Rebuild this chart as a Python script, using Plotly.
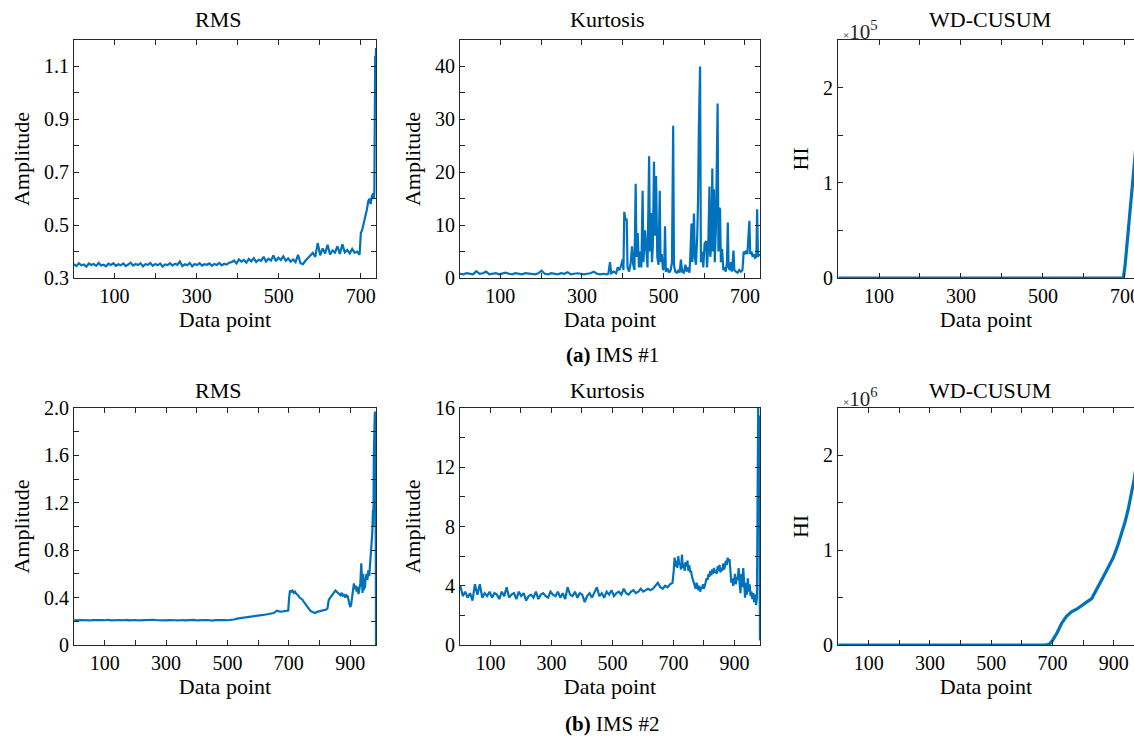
import plotly.graph_objects as go

# ---------------- DATA ----------------
# (a) IMS #1 -- RMS
rms1_x = list(range(1, 698, 6)) + [700, 703, 706, 709, 712, 715, 718, 721, 724, 727, 730, 732, 733, 734, 735, 736, 737]
rms1_y = [
    0.352, 0.345, 0.356, 0.348, 0.351, 0.343, 0.355, 0.349, 0.353, 0.346,
    0.357, 0.347, 0.350, 0.344, 0.354, 0.349, 0.356, 0.346, 0.352, 0.348,
    0.355, 0.345, 0.351, 0.358, 0.347, 0.353, 0.349, 0.356, 0.344, 0.352,
    0.350, 0.357, 0.346, 0.353, 0.348, 0.355, 0.343, 0.351, 0.349, 0.356,
    0.347, 0.354, 0.350, 0.362, 0.345, 0.352, 0.348, 0.357, 0.344, 0.353,
    0.349, 0.356, 0.347, 0.352, 0.350, 0.355, 0.346, 0.353, 0.349, 0.357,
    0.348, 0.354, 0.351, 0.358,
    0.360, 0.366, 0.355, 0.370, 0.362, 0.368, 0.358, 0.372, 0.363, 0.375,
    0.360, 0.369, 0.365, 0.380, 0.362, 0.373, 0.366, 0.385, 0.364, 0.377,
    0.368, 0.382, 0.365, 0.374, 0.362, 0.370, 0.360, 0.388,
    0.356, 0.352,
    0.365, 0.376, 0.384, 0.395, 0.380, 0.432, 0.386, 0.412, 0.393, 0.426,
    0.389, 0.404, 0.396, 0.420, 0.391, 0.428, 0.397, 0.406, 0.393, 0.410,
    0.395, 0.400, 0.388,
    0.47, 0.48, 0.50, 0.51, 0.54, 0.56, 0.59, 0.60, 0.58, 0.61, 0.62, 0.60,
    0.63, 0.95, 1.14, 1.05, 1.17,
]

# (a) IMS #1 -- Kurtosis
kurt1_x = list(range(1, 362, 8)) + [
    365, 369, 372, 378, 384, 388, 392, 396, 400, 402, 404, 407, 410, 412, 416, 420, 423, 426, 429, 432,
    434, 437, 440, 443, 446, 449, 451, 455, 458, 461, 465, 467, 470, 472, 474, 477, 479, 482, 485, 488,
    491, 493, 496, 499, 502, 504, 506, 510, 514, 518, 521, 524, 526, 529, 533, 537, 540, 543, 546, 550,
    554, 557, 561, 564, 566, 569, 571, 575, 577, 580, 583, 585, 587, 590, 592, 595, 598, 601, 605, 607,
    610, 613, 615, 618, 620, 622, 624, 626, 629, 631, 633, 635, 637, 639, 641, 644, 647, 650, 653, 656,
    658, 660, 663, 666, 668, 672, 674, 678, 682, 686, 690, 694, 697, 700, 703, 706, 709, 711, 713, 716,
    719, 722, 725, 728, 730, 732, 735, 737]
kurt1_y = [
    0.8, 0.7, 0.9, 0.8, 0.7, 1.3, 0.8, 0.9, 1.2, 0.7,
    0.8, 0.9, 0.7, 0.8, 1.0, 0.8, 0.7, 0.9, 0.8, 0.7,
    0.9, 0.8, 0.8, 0.7, 0.9, 1.4, 0.8, 0.7, 0.9, 0.8,
    0.7, 0.9, 0.8, 1.1, 0.7, 0.8, 0.9, 0.8, 0.7, 0.8,
    0.9, 1.2, 0.8, 0.7, 0.8, 0.7,
    0.8, 3.0, 0.9, 1.2, 0.9, 2.0, 1.5, 2.3, 3.5, 1.5, 12.5, 11.0, 11.2, 2.0, 1.2, 3.0, 6.0, 2.5, 1.5, 17.8,
    4.0, 8.5, 2.0, 5.0, 2.0, 16.5, 3.0, 9.0, 4.0, 2.0, 23.0, 5.0, 12.3, 3.0, 6.0, 22.0, 8.0, 19.3, 4.0, 2.5,
    16.5, 3.0, 4.5, 1.5, 2.0, 9.8, 1.2, 1.8, 1.0, 1.5, 3.0, 28.8, 2.5, 1.2, 1.0, 1.5, 1.0, 3.5, 1.2, 1.0,
    2.5, 1.2, 2.0, 1.0, 4.0, 10.3, 3.0, 12.2, 4.0, 2.5, 8.0, 14.5, 28.5, 40.0, 3.0, 5.0, 2.0, 6.5, 7.0, 2.0,
    6.0, 17.3, 4.0, 6.5, 20.7, 5.0, 16.8, 3.0, 10.0, 19.3, 33.0, 5.0, 13.3, 13.0, 3.0, 5.5, 1.5, 2.0, 1.2, 3.0,
    10.5, 2.0, 1.5, 3.0, 1.2, 5.2, 1.5, 1.2, 1.0, 1.5, 1.2, 1.5, 5.0, 4.5, 5.2, 4.5, 10.0, 10.8, 4.5, 5.0,
    4.0, 4.5, 3.8, 4.0, 13.0, 4.0, 4.5, 4.2]

# (a) IMS #1 -- WD-CUSUM
wd1_x = [1, 696, 700, 704, 708, 712, 716, 719, 722, 726, 730, 737]
wd1_y = [0, 0, 0.12e5, 0.30e5, 0.47e5, 0.66e5, 0.82e5, 0.96e5, 1.16e5, 1.35e5, 1.55e5, 1.95e5]

# (b) IMS #2 -- RMS
rms2_x = list(range(1, 692, 10)) + [
    698, 701, 704, 708, 712, 716, 720, 725, 730, 735, 740, 745, 750, 755, 760, 765, 770, 775, 780, 786,
    792, 798, 804, 810, 816, 822, 826, 830, 835, 840, 846, 852, 856, 860, 864, 868, 872, 876, 880, 884,
    888, 892, 896, 900, 903, 906, 909, 912, 915, 918, 921, 924, 927, 930, 933, 936, 938, 940, 942, 944,
    946, 948, 950, 953, 956, 959, 962, 965, 968, 970, 972, 974, 975, 976, 977, 978, 979, 980, 981, 982,
    983, 984]
rms2_y = [
    0.212, 0.208, 0.211, 0.209, 0.213, 0.207, 0.210, 0.212, 0.208, 0.211,
    0.209, 0.213, 0.208, 0.210, 0.207, 0.211, 0.209, 0.212, 0.208, 0.210,
    0.211, 0.207, 0.209, 0.212, 0.208, 0.210, 0.213, 0.209, 0.207, 0.211,
    0.208, 0.210, 0.212, 0.209, 0.207, 0.211, 0.208, 0.210, 0.209, 0.212,
    0.207, 0.210, 0.208, 0.211, 0.209, 0.206, 0.210, 0.212, 0.208, 0.210,
    0.209, 0.211, 0.215,
    0.222, 0.225, 0.230, 0.233, 0.238, 0.240, 0.246, 0.248, 0.252, 0.255,
    0.258, 0.262, 0.270, 0.290, 0.282, 0.284, 0.289,
    0.29, 0.40, 0.46, 0.45, 0.46, 0.44, 0.45, 0.43, 0.42, 0.40, 0.39, 0.38, 0.36, 0.34, 0.32, 0.30, 0.29, 0.28, 0.275, 0.27,
    0.28, 0.285, 0.29, 0.29, 0.295, 0.30, 0.31, 0.38, 0.40, 0.42, 0.44, 0.46, 0.45, 0.44, 0.43, 0.42, 0.44, 0.41, 0.43, 0.40,
    0.42, 0.41, 0.36, 0.32, 0.34, 0.40, 0.45, 0.52, 0.47, 0.50, 0.45, 0.49, 0.43, 0.50, 0.52, 0.69, 0.50, 0.44, 0.60, 0.46,
    0.52, 0.48, 0.56, 0.60, 0.55, 0.63, 0.58, 0.68, 0.75, 0.85, 0.95, 1.14, 1.00, 1.20, 1.60, 1.85, 1.70, 1.95, 1.97, 1.80,
    1.00, 0.00]

# (b) IMS #2 -- Kurtosis
kurt2_x = list(range(1, 698, 8)) + [
    701, 704, 707, 710, 713, 716, 719, 722, 725, 728, 731, 734, 737, 740, 743, 746, 749, 752, 755, 758,
    761, 764, 767, 770, 773, 776, 779, 782, 785, 788, 791, 794, 797, 800, 803, 806, 809, 812, 815, 818,
    821, 824, 827, 830, 833, 836, 839, 842, 845, 848, 851, 854, 857, 860, 863, 866, 869, 872, 875, 878,
    881, 884, 887, 890, 893, 896, 899, 902, 905, 908, 911, 914, 917, 920, 923, 926, 929, 932, 935, 938,
    941, 944, 947, 950, 953, 956, 959, 962, 965, 968, 971, 974, 976, 977, 978, 979, 980, 981, 982, 983,
    984]
kurt2_y = [
    4.0, 3.3, 3.6, 3.2, 3.5, 3.0, 4.1, 3.4, 4.1, 3.2, 3.5, 3.3, 3.6,
    3.2, 3.5, 3.4, 3.1, 3.6, 3.3, 3.9, 3.2, 3.4, 3.5, 3.1, 3.6, 3.3,
    3.5, 3.0, 3.3, 3.4, 3.2, 3.6, 3.1, 3.4, 3.5, 3.3, 3.2, 3.6, 3.4,
    3.3, 3.6, 3.2, 3.5, 3.1, 3.9, 3.4, 3.3, 3.6, 3.2, 3.5, 3.4, 2.9,
    3.3, 3.5, 3.2, 3.6, 3.9, 3.3, 3.5, 3.2, 3.6, 3.4, 3.7, 3.3, 3.5,
    3.6, 3.4, 3.8, 3.5, 3.4, 3.6, 3.7, 3.5, 3.6, 3.8, 3.6, 3.7, 3.8,
    3.7, 3.8, 4.0, 4.2, 3.9, 3.8, 4.0, 3.9, 4.1, 4.2,
    5.0, 5.9, 5.3, 5.7, 5.2, 6.0, 5.4, 5.5, 5.1, 6.1, 5.2, 5.5, 5.0, 5.6, 5.3, 5.7, 5.0, 5.4, 4.9, 5.0,
    4.6, 4.4, 4.1, 4.0, 3.8, 4.2, 3.9, 3.7, 4.0, 3.6, 3.9, 3.8, 4.1, 3.8, 4.0, 4.3, 4.5, 4.4, 4.8, 4.6,
    5.0, 4.7, 5.1, 4.8, 5.2, 4.9, 5.0, 4.8, 5.3, 5.0, 5.4, 4.9, 5.2, 5.0, 5.5, 5.1, 5.3, 5.7, 5.4, 5.9,
    5.6, 5.8, 4.6, 4.2, 4.5, 4.0, 4.3, 4.8, 4.1, 4.6, 4.4, 5.2, 4.2, 3.5, 4.8, 3.9, 5.2, 4.4, 3.2, 4.2,
    3.4, 4.5, 3.6, 4.1, 3.3, 3.6, 3.1, 3.5, 2.9, 3.4, 2.7, 3.2, 11.2, 8.0, 16.0, 12.0, 14.5, 9.0, 15.5, 4.0,
    0.3]

# (b) IMS #2 -- WD-CUSUM
wd2_x = [1, 678, 690, 700, 715, 730, 745, 762, 780, 795, 810, 828, 845, 866, 882, 898, 912, 926, 937, 947, 957, 966, 975, 984]
wd2_y = [0, 0, 0.01e6, 0.046e6, 0.13e6, 0.23e6, 0.30e6, 0.35e6, 0.38e6, 0.41e6, 0.45e6, 0.49e6, 0.60e6, 0.72e6,
         0.82e6, 0.92e6, 1.04e6, 1.18e6, 1.30e6, 1.43e6, 1.58e6, 1.74e6, 1.92e6, 2.15e6]

titles = ["RMS", "Kurtosis", "WD-CUSUM"]
ylabels = ["Amplitude", "Amplitude", "HI"]
xlabel = "Data point"
captions = ["<b>(a)</b> IMS #1", "<b>(b)</b> IMS #2"]

# ---------------- STYLE ----------------
W, H = 1134, 737
BLUE = "#0072BD"
AX = "#262626"
FONT = "Liberation Serif"

col_dom = [(74 / W, 376 / W), (460 / W, 760 / W), (838 / W, 1.0)]
row_dom = [(1 - 278 / H, 1 - 40 / H), (1 - 645 / H, 1 - 408 / H)]


def xcfg(dom, rng, maxtick, overflow):
    vals = list(range(100, maxtick + 1, 100))
    txt = [str(v) if (v // 100) % 2 == 1 else "" for v in vals]
    return dict(domain=dom, range=rng, tickvals=vals, ticktext=txt, automargin=False,
                showline=True, linecolor=AX, linewidth=1, mirror="ticks",
                ticks="inside", ticklen=5, tickcolor=AX, showgrid=False, zeroline=False,
                ticklabeloverflow=overflow,
                tickfont=dict(family=FONT, size=20, color="black"),
                title=dict(text=xlabel, font=dict(family=FONT, size=22, color="black"), standoff=2))


def ycfg(dom, rng, vals, txt, title, mirror):
    return dict(domain=dom, range=rng, tickvals=vals, ticktext=txt, automargin=False,
                showline=True, linecolor=AX, linewidth=1, mirror=mirror,
                ticks="inside", ticklen=5, tickcolor=AX, showgrid=False, zeroline=False,
                tickfont=dict(family=FONT, size=20, color="black"),
                title=dict(text=title, font=dict(family=FONT, size=22, color="black"), standoff=8))


fig = go.Figure()
series = [
    (rms1_x, rms1_y, 2.2), (kurt1_x, kurt1_y, 2.2), (wd1_x, wd1_y, 3.2),
    (rms2_x, rms2_y, 2.2), (kurt2_x, kurt2_y, 2.2), (wd2_x, wd2_y, 3.2),
]
for i, (xs, ys, lw) in enumerate(series):
    n = "" if i == 0 else str(i + 1)
    fig.add_trace(go.Scatter(x=xs, y=ys, mode="lines", line=dict(color=BLUE, width=lw),
                             xaxis="x" + n, yaxis="y" + n, showlegend=False, hoverinfo="skip"))

layout = dict(width=W, height=H, margin=dict(l=0, r=0, t=0, b=0, autoexpand=False),
              paper_bgcolor="white", plot_bgcolor="white", showlegend=False,
              font=dict(family=FONT, color="black"))

xr = [[1, 737], [1, 737], [0, 722], [0, 984], [0, 984], [0, 966]]
maxt = [700, 700, 700, 900, 900, 900]
yspec = [
    ([0.3, 1.2], [0.3, 0.4, 0.5, 0.6, 0.7, 0.8, 0.9, 1.0, 1.1], ["0.3", "", "0.5", "", "0.7", "", "0.9", "", "1.1"]),
    ([0, 45], [0, 5, 10, 15, 20, 25, 30, 35, 40], ["0", "", "10", "", "20", "", "30", "", "40"]),
    ([0, 2.5e5], [0, 0.5e5, 1e5, 1.5e5, 2e5], ["0", "", "1", "", "2"]),
    ([0, 2.0], [0, 0.2, 0.4, 0.6, 0.8, 1.0, 1.2, 1.4, 1.6, 1.8, 2.0], ["0", "", "0.4", "", "0.8", "", "1.2", "", "1.6", "", "2.0"]),
    ([0, 16], [0, 2, 4, 6, 8, 10, 12, 14, 16], ["0", "", "4", "", "8", "", "12", "", "16"]),
    ([0, 2.5e6], [0, 0.5e6, 1e6, 1.5e6, 2e6], ["0", "", "1", "", "2"]),
]
for i in range(6):
    r, c = divmod(i, 3)
    n = "" if i == 0 else str(i + 1)
    xa = xcfg(col_dom[c], xr[i], maxt[i], "allow" if c == 2 else "hide past div")
    xa["anchor"] = "y" + n
    ya = ycfg(row_dom[r], yspec[i][0], yspec[i][1], yspec[i][2], ylabels[c],
              "ticks" if c < 2 else False)
    ya["anchor"] = "x" + n
    layout["xaxis" + n] = xa
    layout["yaxis" + n] = ya

ann = []
title_x = [218, 607, 990]
title_y = [20, 390]
for r in range(2):
    for c in range(3):
        ann.append(dict(text=titles[c], x=title_x[c] / W, y=1 - title_y[r] / H, xref="paper", yref="paper",
                        showarrow=False, xanchor="center", yanchor="middle",
                        font=dict(family=FONT, size=22, color="black")))
# exponent labels
for r, e in enumerate(["5", "6"]):
    ann.append(dict(text="<span style='font-size:11px'>×</span>10<sup>" + e + "</sup>",
                    x=841 / W, y=1 - (30 if r == 0 else 397) / H, xref="paper", yref="paper",
                    showarrow=False, xanchor="left", yanchor="middle",
                    font=dict(family=FONT, size=21, color="#262626")))
# captions
for r, cy in enumerate([355, 724]):
    ann.append(dict(text=captions[r], x=612 / W, y=1 - cy / H, xref="paper", yref="paper",
                    showarrow=False, xanchor="center", yanchor="middle",
                    font=dict(family=FONT, size=21, color="black")))
layout["annotations"] = ann

fig.update_layout(**layout)
fig.write_html("out.html")
